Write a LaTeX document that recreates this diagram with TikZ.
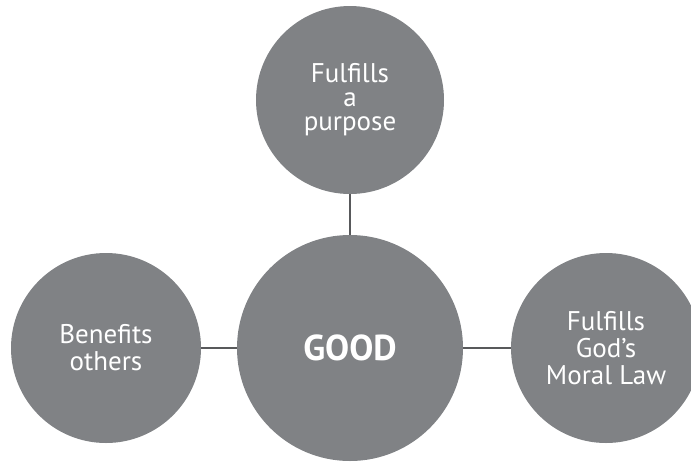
\documentclass[tikz,border=0pt]{standalone}
\usepackage{fontspec}
\setmainfont{PT Sans}
\usepackage{xcolor}
\usetikzlibrary{positioning}
\definecolor{circlegray}{RGB}{128, 130, 133}
\definecolor{linkgray}{RGB}{88, 89, 91}

\begin{document}
\begin{tikzpicture}[x=1pt, y=-1pt,
    idea/.style={circle, fill=circlegray, text=white, align=center, inner sep=0pt,
        font=\fontsize{27}{27}\selectfont},
    link/.style={draw=linkgray, line width=2pt}]
    \clip (0,0) rectangle (691,461);

    % centre and the three ideas round it
    \node[idea, minimum size=226pt, font=\bfseries\fontsize{36}{36}\selectfont] (good) at (350,348) {GOOD};
    \node[idea, minimum size=188pt, font=\fontsize{27}{24}\selectfont] (purpose) at (350,100) {Fulfills\\a\\purpose};
    \node[idea, minimum size=190pt] (others) at (106,348) {Benefits\\others};
    \node[idea, minimum size=190pt] (law) at (606,348) {Fulfills\\God’s\\Moral Law};

    % links
    \draw[link] (purpose) -- (good);
    \draw[link] (others) -- (good);
    \draw[link] (good) -- (law);
\end{tikzpicture}
\end{document}
